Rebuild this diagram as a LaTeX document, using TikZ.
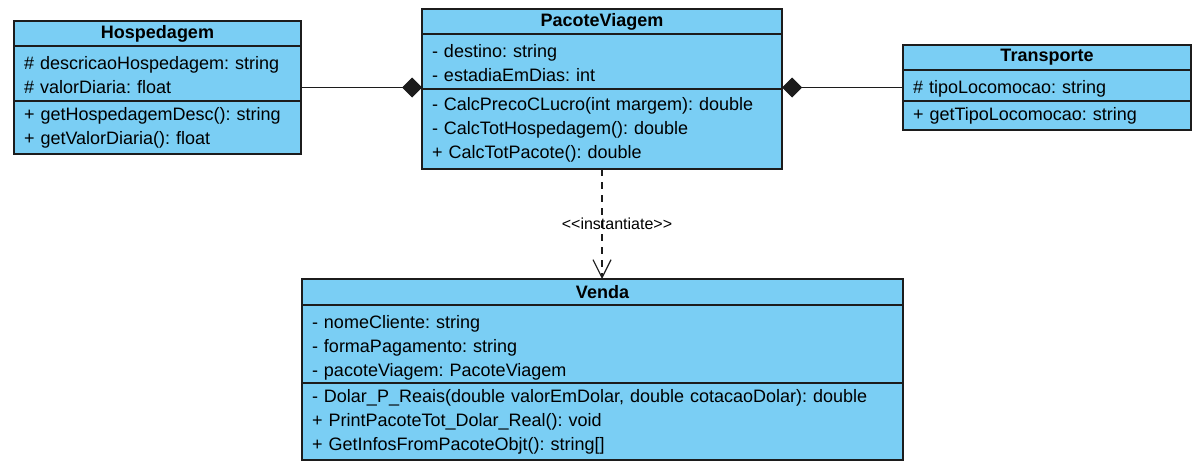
\documentclass[tikz,border=0pt]{standalone}
\usepackage{fontspec}
\setmainfont{Liberation Sans}
\frenchspacing
\usetikzlibrary{positioning,fit,arrows.meta}
\definecolor{classblue}{RGB}{122,206,244}
\definecolor{classline}{RGB}{28,28,28}
\newcommand{\rowstrut}{\rule[-4pt]{0pt}{24pt}}
\newcommand{\methstrut}{\rule[-7pt]{0pt}{24pt}}
\tikzset{
  classpart/.style={draw=classline, fill=classblue, line width=1.2pt, outer sep=0pt,
    inner xsep=10pt, inner ysep=0pt, align=left, anchor=north,
    font=\fontsize{18}{24}\selectfont},
  classhead/.style={classpart, align=center, font=\fontsize{18}{24}\selectfont\bfseries},
  wholeclass/.style={inner sep=0pt, outer sep=0pt},
  compose/.style={draw=classline, line width=1.2pt, -{Diamond[length=20pt, width=20pt]}},
  depend/.style={draw=classline, line width=1.2pt, dash pattern=on 7pt off 6pt,
    -{Straight Barb[length=18pt, width=18pt]}}
}

\begin{document}
\begin{tikzpicture}[x=1pt,y=-1pt]
\useasboundingbox (0,0) rectangle (1202,472);

\node[classhead, text width=267pt, minimum height=25pt, anchor=north west] (hosp-head) at (14,21) {Hospedagem};
\node[classpart, text width=267pt, minimum height=55pt, below=0pt of hosp-head] (hosp-attr)
  {\rowstrut\# descricaoHospedagem: string\\\rowstrut\# valorDiaria: float};
\node[classpart, text width=267pt, minimum height=53pt, below=0pt of hosp-attr] (hosp-meth)
  {\methstrut+ getHospedagemDesc(): string\\\methstrut+ getValorDiaria(): float};
\node[wholeclass, fit=(hosp-head)(hosp-meth)] (hosp) {};

\node[classhead, text width=340pt, minimum height=25pt, anchor=north west] (pac-head) at (422,9) {PacoteViagem};
\node[classpart, text width=340pt, minimum height=55pt, below=0pt of pac-head] (pac-attr)
  {\rowstrut- destino: string\\\rowstrut- estadiaEmDias: int};
\node[classpart, text width=340pt, minimum height=80pt, below=0pt of pac-attr] (pac-meth)
  {\methstrut- CalcPrecoCLucro(int margem): double\\- CalcTotHospedagem(): double\\\methstrut+ CalcTotPacote(): double};
\node[wholeclass, fit=(pac-head)(pac-meth)] (pac) {};

\node[classhead, text width=268pt, minimum height=25pt, anchor=north west] (trans-head) at (903,45) {Transporte};
\node[classpart, text width=268pt, minimum height=31pt, below=0pt of trans-head] (trans-attr)
  {\rowstrut\# tipoLocomocao: string};
\node[classpart, text width=268pt, minimum height=29pt, below=0pt of trans-attr] (trans-meth)
  {\methstrut+ getTipoLocomocao: string};
\node[wholeclass, fit=(trans-head)(trans-meth)] (trans) {};

\node[classhead, text width=581pt, minimum height=26pt, anchor=north west] (venda-head) at (302,279) {Venda};
\node[classpart, text width=581pt, minimum height=78pt, below=0pt of venda-head] (venda-attr)
  {\rowstrut- nomeCliente: string\\- formaPagamento: string\\\rowstrut- pacoteViagem: PacoteViagem};
\node[classpart, text width=581pt, minimum height=77pt, below=0pt of venda-attr] (venda-meth)
  {\methstrut- Dolar\_P\_Reais(double valorEmDolar, double cotacaoDolar): double\\+ PrintPacoteTot\_Dolar\_Real(): void\\\methstrut+ GetInfosFromPacoteObjt(): string[]};
\node[wholeclass, fit=(venda-head)(venda-meth)] (venda) {};

\draw[compose] (hosp.east) -- (hosp.east -| pac.west);
\draw[compose] (trans.west) -- (trans.west -| pac.east);
\draw[depend] (pac.south) -- node[font=\fontsize{16}{18}\selectfont, xshift=15pt] {<\kern0pt<instantiate>\kern0pt>} (pac.south |- venda.north);
\end{tikzpicture}
\end{document}
